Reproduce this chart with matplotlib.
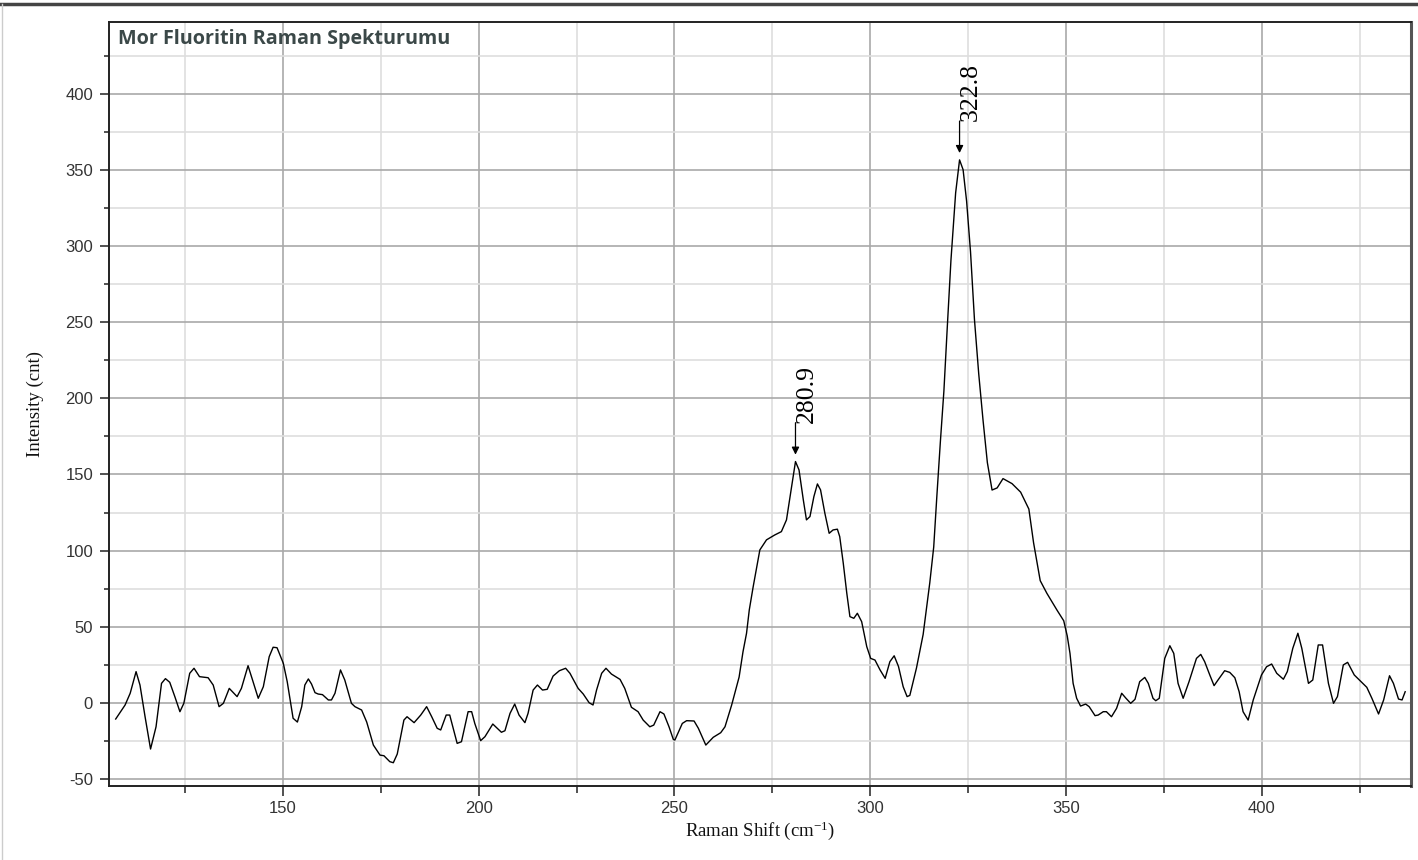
import matplotlib
matplotlib.use('Agg')
import matplotlib.pyplot as plt
from matplotlib.ticker import MultipleLocator
from matplotlib.lines import Line2D

plt.rcParams['mathtext.fontset'] = 'custom'
plt.rcParams['mathtext.rm'] = 'Liberation Serif'
plt.rcParams['mathtext.it'] = 'Liberation Serif:italic'
plt.rcParams['axes.unicode_minus'] = False

# Raman spektrumu (cm-1, cnt)
shift = [
    107.3, 109.7, 111.0, 112.5, 113.5, 114.8, 116.2, 117.6, 119.0, 120.0,
    121.1, 122.4, 123.7, 124.7, 126.2, 127.3, 128.7, 130.9, 132.2, 133.7,
    134.8, 136.3, 138.3, 139.4, 141.1, 143.7, 145.0, 146.5, 147.5, 148.5,
    150.1, 151.1, 152.6, 153.7, 154.8, 155.6, 156.5, 157.3, 158.2, 159.0,
    160.1, 161.6, 162.4, 163.3, 164.7, 165.8, 167.5, 168.4, 170.1, 171.4,
    173.1, 174.8, 175.8, 177.3, 178.2, 179.2, 180.9, 181.7, 183.5, 185.2,
    186.7, 188.0, 189.4, 190.3, 191.7, 192.6, 194.5, 195.6, 197.3, 198.2,
    199.0, 200.5, 201.6, 203.6, 205.8, 206.7, 208.0, 209.2, 210.3, 211.8,
    212.6, 213.9, 215.0, 216.3, 217.5, 219.0, 220.6, 222.2, 223.3, 225.4,
    226.7, 228.2, 229.2, 230.1, 231.4, 232.5, 233.9, 236.1, 237.3, 239.0,
    240.7, 242.0, 243.7, 244.7, 246.3, 247.3, 248.6, 249.7, 250.1, 252.0,
    253.1, 255.0, 256.1, 258.0, 259.9, 261.8, 262.9, 264.6, 266.5, 267.5,
    268.4, 269.1, 270.1, 271.8, 273.5, 275.6, 277.3, 278.6, 279.9, 280.9,
    281.8, 282.9, 283.7, 284.6, 285.6, 286.5, 287.3, 288.4, 289.5, 290.5,
    291.6, 292.2, 293.1, 294.0, 294.8, 295.8, 296.7, 297.8, 299.1, 300.1,
    301.2, 302.5, 303.8, 305.0, 306.1, 307.2, 308.4, 309.4, 310.1, 311.8,
    313.5, 315.2, 316.2, 317.0, 317.9, 318.8, 319.6, 320.6, 321.8, 322.8,
    323.7, 324.6, 325.6, 326.6, 327.7, 328.8, 329.9, 331.1, 332.4, 333.9,
    336.2, 338.4, 340.5, 341.7, 343.4, 345.1, 347.7, 349.4, 350.3, 351.0,
    351.8, 352.7, 353.7, 355.0, 355.9, 357.4, 358.2, 359.5, 360.3, 361.6,
    362.9, 364.2, 365.3, 366.5, 367.6, 368.8, 370.1, 371.0, 372.2, 372.9,
    373.8, 375.2, 376.5, 377.5, 378.6, 379.9, 381.4, 383.3, 384.4, 385.4,
    386.7, 387.8, 388.8, 390.5, 391.8, 393.1, 394.2, 395.2, 396.5, 397.8,
    399.9, 401.2, 402.5, 403.8, 405.5, 406.5, 407.9, 409.2, 410.2, 411.9,
    413.0, 414.4, 415.5, 417.0, 418.3, 419.3, 420.8, 421.9, 423.6, 424.9,
    426.8, 428.1, 429.8, 431.1, 432.6, 433.6, 434.9, 435.8, 436.6,
]
intensity = [
    -10.5, -1.3, 6.4, 20.6, 11.8, -9.0, -30.2, -15.6, 12.9, 16.0,
    13.6, 4.2, -5.7, -0.2, 19.5, 22.8, 17.3, 16.6, 11.8, -2.4,
    -0.2, 9.6, 4.2, 9.6, 24.5, 3.1, 10.7, 30.4, 36.6, 36.3,
    26.1, 14.0, -10.0, -12.5, -2.4, 11.8, 15.8, 12.5, 6.8, 5.9,
    5.5, 2.0, 2.0, 6.4, 21.7, 15.1, -0.2, -2.4, -4.6, -12.5,
    -27.6, -34.2, -34.6, -38.5, -39.2, -33.5, -11.2, -9.0, -12.9, -7.9,
    -2.4, -9.0, -16.6, -17.7, -7.9, -7.9, -26.5, -25.4, -5.7, -5.7,
    -13.4, -24.7, -22.1, -13.8, -19.2, -18.2, -6.8, -0.7, -7.9, -12.9,
    -6.8, 8.5, 11.8, 8.5, 9.0, 17.7, 21.2, 22.8, 19.5, 9.6,
    5.9, 0.2, -1.3, 8.5, 19.5, 22.8, 19.0, 15.5, 9.6, -2.8,
    -5.7, -11.2, -15.6, -14.5, -5.7, -7.2, -15.6, -23.9, -24.3, -13.4,
    -11.6, -11.8, -16.6, -27.6, -22.5, -19.5, -15.6, -1.3, 17.0, 33.7,
    45.8, 61.1, 76.4, 100.5, 107.1, 110.3, 112.5, 120.2, 142.1, 158.5,
    153.0, 133.3, 120.2, 122.4, 135.5, 143.8, 139.9, 124.6, 111.4, 113.6,
    114.1, 109.2, 91.8, 72.1, 56.7, 55.6, 58.9, 53.4, 37.0, 29.3,
    28.2, 21.7, 16.2, 27.1, 31.0, 24.0, 10.7, 4.2, 5.0, 23.0,
    45.0, 79.0, 102.4, 135.7, 171.5, 204.8, 243.6, 290.6, 334.9, 356.5,
    350.1, 329.4, 296.1, 251.9, 215.9, 185.5, 157.8, 139.8, 141.2, 147.3,
    144.0, 138.4, 127.3, 105.2, 80.3, 72.0, 60.9, 54.0, 44.0, 32.6,
    12.9, 3.1, -2.0, -0.7, -2.4, -8.3, -7.9, -5.7, -5.7, -9.0,
    -3.5, 6.4, 3.1, -0.2, 2.4, 14.0, 16.8, 12.9, 3.1, 1.5,
    3.1, 29.3, 37.6, 32.6, 12.9, 3.1, 14.0, 29.3, 31.9, 27.1,
    18.4, 11.4, 15.1, 21.2, 20.1, 16.6, 7.4, -5.7, -11.2, 2.0,
    18.4, 23.8, 25.6, 19.5, 15.6, 20.6, 35.9, 45.8, 35.9, 12.9,
    15.1, 38.1, 38.1, 12.9, -0.2, 4.2, 25.0, 26.7, 18.4, 15.1,
    10.3, 3.1, -7.2, 2.0, 17.9, 12.9, 2.6, 2.0, 7.4,
]

# isaretlenen tepeler
peak_pos = [280.9, 322.8]
peak_height = [158.5, 356.5]
peak_labels = ['280.9', '322.8']

fig = plt.figure(figsize=(14.18, 8.6), dpi=100)
ax = fig.add_axes([0.0769, 0.0860, 0.9182, 0.8884])

ax.plot(shift, intensity, color='black', lw=1.0)

ax.set_xlim(105.6, 438.1)
ax.set_ylim(-54.5, 447)

ax.xaxis.set_major_locator(MultipleLocator(50))
ax.xaxis.set_minor_locator(MultipleLocator(25))
ax.yaxis.set_major_locator(MultipleLocator(50))
ax.yaxis.set_minor_locator(MultipleLocator(25))

ax.grid(which='major', color='#a9a9a9', lw=1.2)
ax.grid(which='minor', color='#dedede', lw=1.2)
ax.set_axisbelow(True)

for lab in ax.get_xticklabels() + ax.get_yticklabels():
    lab.set_family('Liberation Sans')
ax.tick_params(axis='both', which='both', direction='out', color='#222222',
               labelcolor='#333333', labelsize=12)
ax.tick_params(axis='y', which='major', length=6.5, width=1.1, pad=5)
ax.tick_params(axis='y', which='minor', length=3.6, width=1.1)
ax.tick_params(axis='x', which='major', length=7, width=1.1, pad=3.5)
ax.tick_params(axis='x', which='minor', length=5, width=1.1)

for side in ['left', 'bottom', 'top']:
    ax.spines[side].set_color('#222222')
    ax.spines[side].set_linewidth(1.4)
ax.spines['right'].set_color('#555555')
ax.spines['right'].set_linewidth(2.2)

ax.set_xlabel(r'Raman Shift (cm$^{{-}1}$)', family='Liberation Serif',
              fontsize=13.5, color='#111111', labelpad=3)
ax.set_ylabel('Intensity (cnt)', family='Liberation Serif',
              fontsize=13.5, color='#111111', labelpad=15)

ax.text(0.0069, 0.9712, 'Mor Fluoritin Raman Spekturumu', transform=ax.transAxes,
        family='Open Sans', fontweight='bold', fontsize=14.2, color='#3b4848',
        ha='left', va='baseline')

for px, py, lab in zip(peak_pos, peak_height, peak_labels):
    ax.annotate('', xy=(px, py + 4.5), xytext=(px, py + 25.5),
                arrowprops=dict(arrowstyle='-|>', color='black', lw=0.9,
                                mutation_scale=11, shrinkA=0, shrinkB=0))
    ax.text(px, py + 25.5, lab, rotation=90, ha='left', va='bottom',
            family='Liberation Serif', fontsize=18.5, color='black')

# pencere cercevesi
fig.add_artist(Line2D([0, 1], [0.9953, 0.9953], transform=fig.transFigure,
                      color='#444444', lw=2.5))
fig.add_artist(Line2D([0.0014, 0.0014], [0, 0.995], transform=fig.transFigure,
                      color='#cccccc', lw=1.0))

fig.savefig('out.png', dpi=100)
